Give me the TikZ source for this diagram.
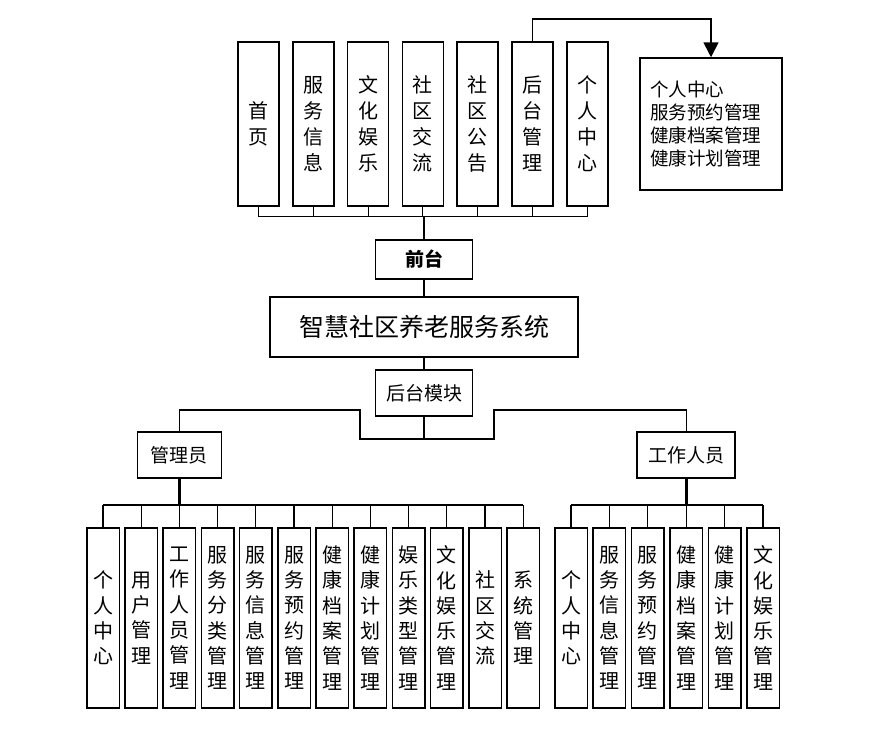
\documentclass[tikz,border=0pt]{standalone}
\usepackage{fontspec}
\setmainfont{Noto Sans CJK SC}
\usetikzlibrary{arrows.meta,positioning}

\begin{document}
\begin{tikzpicture}
		[x=1pt,y=-1pt,
		box/.style={draw,line width=1.5pt,inner sep=0pt,align=center},
		page/.style={box,minimum width=41pt,minimum height=164pt,font=\fontsize{20}{26}\selectfont},
		leaf/.style={box,minimum width=32.5pt,minimum height=180pt,font=\fontsize{20}{25.3}\selectfont},
		role/.style={box,minimum height=46pt,font=\fontsize{19}{23}\selectfont},
		link/.style={line width=1.3pt},
		hair/.style={line width=1pt},
		trunk/.style={line width=2.6pt},
		rail/.style={line width=1.8pt}]
		\useasboundingbox (0,0) rectangle (888,734);
		% front pages
		\node[page] (p1) at (258.5,124) {首\\页};
		\node[page,right=12.3pt of p1] (p2) {服\\务\\信\\息};
		\node[page,right=12.3pt of p2] (p3) {文\\化\\娱\\乐};
		\node[page,right=12.3pt of p3] (p4) {社\\区\\交\\流};
		\node[page,right=12.3pt of p4] (p5) {社\\区\\公\\告};
		\node[page,right=12.3pt of p5] (p6) {后\\台\\管\\理};
		\node[page,right=12.3pt of p6] (p7) {个\\人\\中\\心};
		\node[box,text width=122pt,inner xsep=10pt,minimum height=132pt,align=left,
			font=\fontsize{18.5}{23.3}\selectfont] (mine) at (711,124)
			{个人中心\\服务预约管理\\健康档案管理\\健康计划管理};
		% system core
		\node[box,minimum width=97pt,minimum height=39pt,font=\fontsize{19}{23}\selectfont\bfseries] (front) at (424,259.5) {前台};
		\node[box,minimum width=308pt,minimum height=60pt,font=\fontsize{25}{30}\selectfont] (sys) at (424,327) {智慧社区养老服务系统};
		\node[role,minimum width=97pt] (back) at (424,393) {后台模块};
		\node[role,minimum width=84pt] (admin) at (179.4,455) {管理员};
		\node[role,minimum width=98pt] (staff) at (686.2,455) {工作人员};
		% admin modules
		\node[leaf] (a1) at (103,618) {个\\人\\中\\心};
		\node[leaf,right=4.2pt of a1] (a2) {用\\户\\管\\理};
		\node[leaf,right=4.2pt of a2] (a3) {工\\作\\人\\员\\管\\理};
		\node[leaf,right=4.2pt of a3] (a4) {服\\务\\分\\类\\管\\理};
		\node[leaf,right=4.2pt of a4] (a5) {服\\务\\信\\息\\管\\理};
		\node[leaf,right=4.2pt of a5] (a6) {服\\务\\预\\约\\管\\理};
		\node[leaf,right=4.2pt of a6] (a7) {健\\康\\档\\案\\管\\理};
		\node[leaf,right=4.2pt of a7] (a8) {健\\康\\计\\划\\管\\理};
		\node[leaf,right=4.2pt of a8] (a9) {娱\\乐\\类\\型\\管\\理};
		\node[leaf,right=4.2pt of a9] (a10) {文\\化\\娱\\乐\\管\\理};
		\node[leaf,right=4.2pt of a10] (a11) {社\\区\\交\\流};
		\node[leaf,right=4.2pt of a11] (a12) {系\\统\\管\\理};
		% staff modules
		\node[leaf] (s1) at (571,618) {个\\人\\中\\心};
		\node[leaf,right=4.4pt of s1] (s2) {服\\务\\信\\息\\管\\理};
		\node[leaf,right=4.4pt of s2] (s3) {服\\务\\预\\约\\管\\理};
		\node[leaf,right=4.4pt of s3] (s4) {健\\康\\档\\案\\管\\理};
		\node[leaf,right=4.4pt of s4] (s5) {健\\康\\计\\划\\管\\理};
		\node[leaf,right=4.4pt of s5] (s6) {文\\化\\娱\\乐\\管\\理};
		% bends of the back-end fork
		\coordinate (fork) at (424,439);
		\coordinate (lbend) at (360,410);
		\coordinate (rbend) at (494,410);
		% connectors
		\draw[trunk] (front.north) -- ++(0,-23) coordinate (topbus);
		\foreach \i in {1,...,7}
			\draw[hair] (p\i.south) |- (topbus);
		\draw[line width=1.7pt,-{Triangle[length=15pt,width=15pt]}] (p6.north) -- ++(0,-22) -| (mine.north);
		\draw[link] (front.south) -- (sys.north);
		\draw[link] (sys.south) -- (back.north);
		\draw[link] (back.south) -- (fork);
		\draw[link] (fork) -| (lbend) -| (admin.north);
		\draw[link] (fork) -| (rbend) -| (staff.north);
		\draw[trunk] (admin.south) -- ++(0,26) coordinate (abus);
		\draw[trunk] (staff.south) -- ++(0,26) coordinate (sbus);
		\foreach \i in {1,...,12}
			\draw[link] (a\i.north) -- (a\i.north |- abus);
		\foreach \i in {1,...,6}
			\draw[link] (s\i.north) -- (s\i.north |- sbus);
		\draw[rail] (a1.north |- abus) -- (a12.north |- abus);
		\draw[rail] (s1.north |- sbus) -- (s6.north |- sbus);
\end{tikzpicture}
\end{document}
